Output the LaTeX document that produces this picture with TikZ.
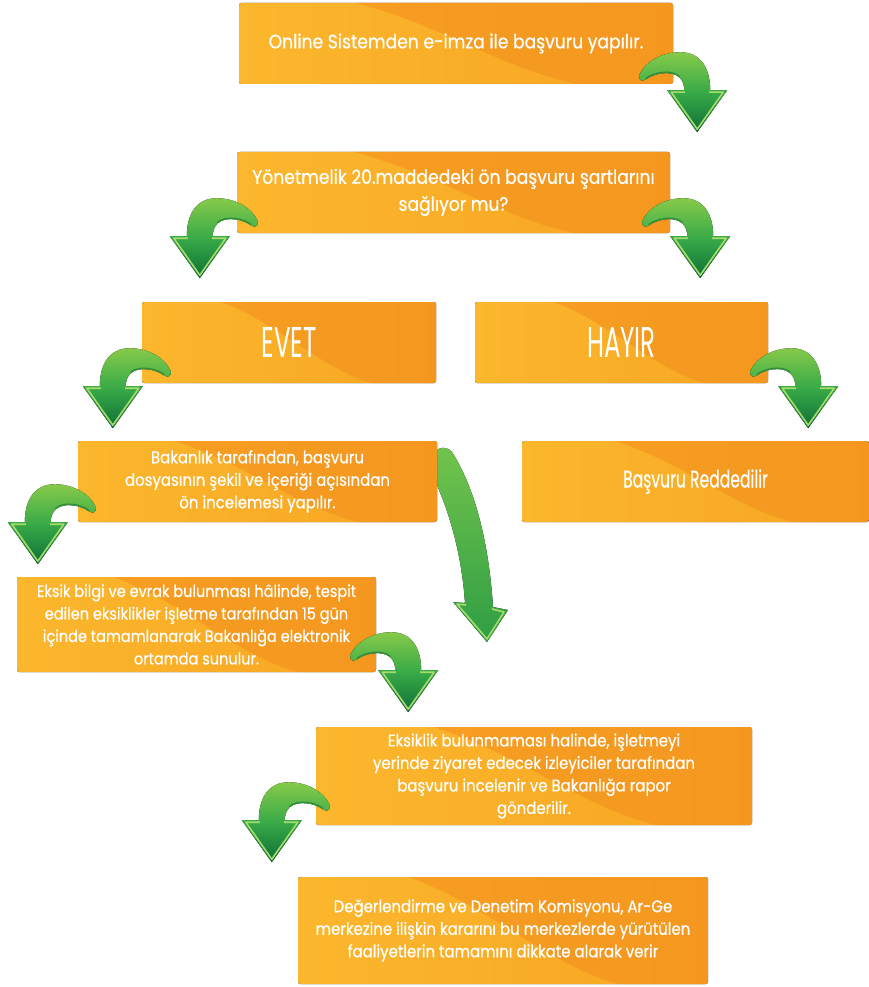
\documentclass[tikz,border=0pt]{standalone}
\usepackage{fontspec}
\setmainfont{Poppins}
\newfontfamily\bodyfont[FakeStretch=0.88, FakeBold=0.5]{Poppins}
\newfontfamily\condfont[FakeStretch=0.57]{Poppins}
\newfontfamily\semicondfont[FakeStretch=0.65, FakeBold=0.3]{Poppins}
\usetikzlibrary{calc}
\definecolor{olight}{HTML}{FBB72D}
\definecolor{omid}{HTML}{F8A522}
\definecolor{odark}{HTML}{F38D1D}
\definecolor{glight}{HTML}{86CA4A}
\definecolor{gmid}{HTML}{38AA47}
\definecolor{gdark}{HTML}{0D6F36}
\definecolor{grim}{HTML}{A6DB6C}
\definecolor{llight}{HTML}{72C44B}
\definecolor{ldark}{HTML}{2F9E45}
\tikzset{
  boxtext/.style={text=white, align=center, inner sep=0pt},
  greenfill/.style={top color=glight, bottom color=gdark, middle color=gmid},
  garrow/.pic={
    \begin{scope}[yscale=-1]
      \fill[greenfill] (0,0) -- (30,42) -- (13,42)
        .. controls (13,66) and (2,80) .. (-17,80)
        .. controls (-37,80) and (-53,69) .. (-58,57)
        .. controls (-59,52) and (-55,50) .. (-51,53)
        .. controls (-43,59) and (-26,62) .. (-18,55)
        .. controls (-14,51) and (-13,47) .. (-13,42)
        -- (-30,42) -- cycle;
      \draw[gdark, line width=1.4pt, opacity=0.55, line cap=round]
        (-51,54) .. controls (-43,60) and (-26,63) .. (-18,56);
      \draw[grim, line width=1.6pt, line join=round] (12,40) -- (26,40) -- (0,3) -- (-26,40) -- (-12,40);
    \end{scope}
  }
}
\newcommand\obox[7]{%
  \fill[rounded corners=2.5pt, left color=olight, right color=omid] (#2,#3) rectangle (#4,#5);
  \begin{scope}
    \clip[rounded corners=2.5pt] (#2,#3) rectangle (#4,#5);
    \fill[odark, opacity=0.55] ({#2+0.27*(#4-#2)},#3)
      .. controls ({#2+0.48*(#4-#2)},{#3+0.3*(#5-#3)}) and ({#2+0.6*(#4-#2)},{#3+0.8*(#5-#3)})
      .. ({#2+0.78*(#4-#2)},#5) -- (#4,#5) -- (#4,#3) -- cycle;
  \end{scope}
  \node[boxtext, font={#6}, minimum width={#4-#2}, minimum height={#5-#3}] (#1) at ({(#2+#4)/2},{(#3+#5)/2}) {#7};
}
\begin{document}
\begin{tikzpicture}[x=1pt,y=-1pt]
\useasboundingbox (0,0) rectangle (869,987);
% long arrow behind the box
\fill[top color=llight, bottom color=ldark] (430,470) .. controls (452,515) and (462,560) .. (465,603) -- (453,602) -- (487,642) -- (508,610) -- (493,607)
   .. controls (489,545) and (476,490) .. (452,452) .. controls (445,444) and (430,446) .. (430,470) -- cycle;
\draw[grim, line width=1.6pt, line join=round] (466,605) -- (457,604) -- (487,639) -- (504,612) -- (492,609);

\obox{b1}{239}{3}{673}{84}{\fontsize{19.5}{26}\selectfont\bodyfont}{Online Sistemden e-imza ile başvuru yapılır.}
\obox{b2}{237}{152}{670}{233}{\fontsize{19.5}{27}\selectfont\bodyfont}{Yönetmelik 20.maddedeki ön başvuru şartlarını\\sağlıyor mu?}
\obox{evet}{142}{302}{436}{383}{\fontsize{43}{50}\selectfont\condfont}{EVET}
\obox{hayir}{475}{302}{768}{383}{\fontsize{43}{50}\selectfont\condfont}{HAYIR}
\obox{bak}{78}{441}{437}{522}{\fontsize{17}{22.5}\selectfont\bodyfont}{Bakanlık tarafından, başvuru\\dosyasının şekil ve içeriği açısından\\ön incelemesi yapılır.}
\obox{red}{522}{441}{869}{522}{\fontsize{24}{30}\selectfont\semicondfont}{Başvuru Reddedilir}
\obox{eksik}{17}{577}{376}{672}{\fontsize{16.5}{22.5}\selectfont\bodyfont}{Eksik bilgi ve evrak bulunması hâlinde, tespit\\edilen eksiklikler işletme tarafından 15 gün\\içinde tamamlanarak Bakanlığa elektronik\\ortamda sunulur.}
\obox{eksiklik}{316}{727}{752}{825}{\fontsize{17}{22.5}\selectfont\bodyfont}{Eksiklik bulunmaması halinde, işletmeyi\\yerinde ziyaret edecek izleyiciler tarafından\\başvuru incelenir ve Bakanlığa rapor\\gönderilir.}
\obox{deger}{298}{877}{708}{984}{\fontsize{17}{22.5}\selectfont\bodyfont}{Değerlendirme ve Denetim Komisyonu, Ar-Ge\\merkezine ilişkin kararını bu merkezlerde yürütülen\\faaliyetlerin tamamını dikkate alarak verir}

\pic at ($(b1.south east)+(24,48)$) {garrow};
\pic[xscale=-1] at ($(b2.south west)+(-37,45)$) {garrow};
\pic at ($(b2.south east)+(30,45)$) {garrow};
\pic[xscale=-1] at ($(evet.south west)+(-29,45)$) {garrow};
\pic at ($(hayir.south east)+(40,45)$) {garrow};
\pic[xscale=-1] at ($(bak.south west)+(-40,42)$) {garrow};
\pic at ($(eksik.south east)+(32,40)$) {garrow};
\pic[xscale=-1] at ($(eksiklik.south west)+(-44,37)$) {garrow};
\end{tikzpicture}
\end{document}
